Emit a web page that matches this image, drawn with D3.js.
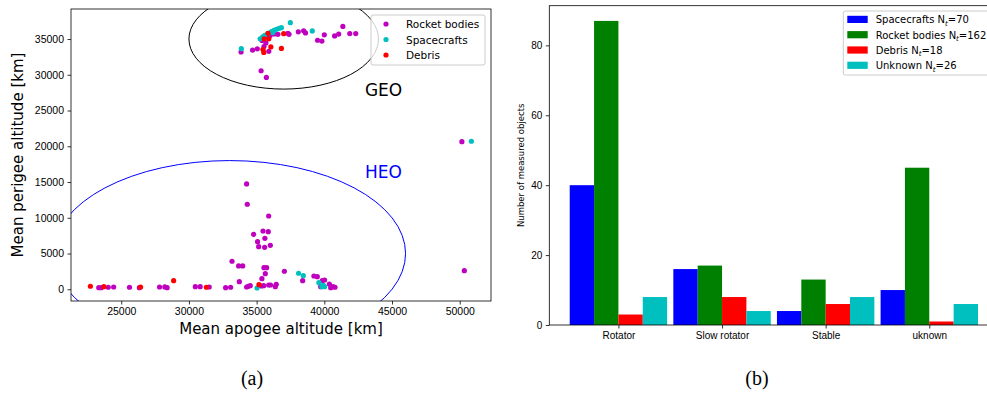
<!DOCTYPE html>
<html>
<head>
<meta charset="utf-8">
<script src="https://cdn.jsdelivr.net/npm/d3@7"></script>
<style>
  body { margin: 0; background: #fff; }
  svg { display: block; font-family: "DejaVu Sans", sans-serif; }
</style>
</head>
<body>
<svg id="chart" width="987" height="395"></svg>
<script>
// ---- panel (a): mean apogee / perigee altitude [km] ----
const rocketBodies = [
  [33850,33200],[34700,33450],[35050,33630],[35330,30560],[35720,29630],[35540,33940],
  [35680,34450],[35900,33280],[36570,35660],[37310,35800],[37390,35660],[38080,36010],
  [38470,36150],[38610,35850],[39500,34830],[39820,34710],[40000,35590],[40760,35430],
  [41060,35690],[41370,36760],[41880,35760],[42320,35760],[35700,35300],[36000,35500],
  [36300,35700],[35400,34800],
  [50160,20650],[50340,2600],
  [34260,14730],[34310,11890],[35890,10250],[34780,7690],[35470,8150],[35860,8060],
  [35610,7130],[35070,6660],[35150,5960],[35590,5870],[36010,6150],[33180,3920],
  [33670,3260],[33970,3260],[37050,2520],[35540,3020],[35740,3020],[35640,2180],
  [35390,1480],[33720,1060],
  [23340,220],[23530,220],[24040,280],[24440,320],[25610,280],[26340,220],[27830,320],
  [28220,330],[28390,220],[30470,360],[30830,360],[31500,320],[32710,220],[33080,280],
  [34260,320],[34380,420],[34530,500],[35350,460],[35520,500],[35890,600],[36030,600],
  [36380,360],[36450,700],
  [38400,1200],[39230,1860],[39480,1760],[39850,1200],[40020,1300],[40370,740],
  [40470,220],[40640,360],[40790,280],[39730,360]
];
const spacecrafts = [
  [33870,33650],[35260,35030],[37490,37290],[39110,36130],[35600,35520],[35840,35800],
  [36090,36030],[36290,36220],[36460,36370],[36660,36500],[36830,36590],[35450,35300],
  [36200,35900],[50860,20700],
  [35030,180],[38100,2240],[38450,1900],[39600,920],[39820,360],[40020,360],[39930,560]
];
const debris = [
  [35840,35800],[35560,35030],[35900,35030],[37000,35750],[36050,33890],[36830,33680],
  [35470,33520],[35530,33120],
  [22720,420],[23720,360],[26430,320],[28870,1200],[31290,280],[35170,640]
];
const scatterNames = ["Rocket bodies", "Spacecrafts", "Debris"];
const apogeeTicks = [25000, 30000, 35000, 40000, 45000, 50000];
const perigeeTicks = [0, 5000, 10000, 15000, 20000, 25000, 30000, 35000];
// orbit regions: [centre apogee, centre perigee, radius]
const geoRegion = [37000, 35000, 7000];
const heoRegion = [33000, 5000, 13000];

// ---- panel (b): rotation classes ----
const classes = ["Rotator", "Slow rotator", "Stable", "uknown"];
const groupNames = ["Spacecrafts", "Rocket bodies", "Debris", "Unknown"];
const groupTotals = [70, 162, 18, 26];
const spacecraftCounts = [40, 16, 4, 10];
const rocketCounts = [87, 17, 13, 45];
const debrisCounts = [3, 8, 6, 1];
const unknownCounts = [8, 4, 8, 6];
const countTicks = [0, 20, 40, 60, 80];

const svg = d3.select("#chart");

function styleAxis(g, size) {
  g.select(".domain").remove();
  g.selectAll(".tick line").attr("stroke", "#000").attr("stroke-width", 0.8);
  g.selectAll(".tick text").attr("fill", "#000").style("font-size", size + "px");
}

// ================= panel (a) =================
const A = {left: 71, right: 491, top: 9, bottom: 301};
const xa = d3.scaleLinear().domain([21290, 52310]).range([A.left, A.right]);
const ya = d3.scaleLinear().domain([-1640, 39200]).range([A.bottom, A.top]);

svg.append("clipPath").attr("id", "clipA")
  .append("rect").attr("x", A.left).attr("y", A.top)
  .attr("width", A.right - A.left).attr("height", A.bottom - A.top);

const pa = svg.append("g").attr("clip-path", "url(#clipA)");

[[geoRegion, "#000"], [heoRegion, "#0000ff"]].forEach(([r, c]) => {
  pa.append("ellipse")
    .attr("cx", xa(r[0])).attr("cy", ya(r[1]))
    .attr("rx", xa(r[0] + r[2]) - xa(r[0]))
    .attr("ry", ya(r[1]) - ya(r[1] + r[2]))
    .attr("fill", "none").attr("stroke", c).attr("stroke-width", 1);
});

const scatterColors = ["#bf00bf", "#00bfbf", "#ff0000"];
[rocketBodies, spacecrafts, debris].forEach((pts, i) => {
  pa.selectAll(null).data(pts).enter().append("circle")
    .attr("cx", d => xa(d[0])).attr("cy", d => ya(d[1]))
    .attr("r", 2.6).attr("fill", scatterColors[i]);
});

svg.append("text").attr("x", xa(43000)).attr("y", ya(27000))
  .style("font-size", "17px").attr("fill", "#000").text("GEO");
svg.append("text").attr("x", xa(43000)).attr("y", ya(15500))
  .style("font-size", "17px").attr("fill", "#0000ff").text("HEO");

svg.append("g").attr("transform", `translate(0,${A.bottom})`)
  .call(d3.axisBottom(xa).tickValues(apogeeTicks).tickSize(3.5).tickPadding(3.5).tickFormat(d3.format("d")))
  .call(g => styleAxis(g, 10.5));
svg.append("g").attr("transform", `translate(${A.left},0)`)
  .call(d3.axisLeft(ya).tickValues(perigeeTicks).tickSize(3.5).tickPadding(3.5).tickFormat(d3.format("d")))
  .call(g => styleAxis(g, 10.5));

svg.append("rect").attr("x", A.left).attr("y", A.top)
  .attr("width", A.right - A.left).attr("height", A.bottom - A.top)
  .attr("fill", "none").attr("stroke", "#000").attr("stroke-width", 0.8);

svg.append("text").attr("x", (A.left + A.right) / 2).attr("y", 334)
  .attr("text-anchor", "middle").style("font-size", "15px")
  .text("Mean apogee altitude [km]");
svg.append("text")
  .attr("transform", `translate(23,${(A.top + A.bottom) / 2}) rotate(-90)`)
  .attr("text-anchor", "middle").style("font-size", "15px")
  .text("Mean perigee altitude [km]");

// legend (a)
const la = svg.append("g").attr("transform", "translate(371,15)");
la.append("rect").attr("width", 114).attr("height", 50).attr("rx", 2)
  .attr("fill", "#fff").attr("fill-opacity", 0.8).attr("stroke", "#ccc");
scatterNames.forEach((n, i) => {
  la.append("circle").attr("cx", 15).attr("cy", 9 + i * 15.5).attr("r", 2.6).attr("fill", scatterColors[i]);
  la.append("text").attr("x", 35).attr("y", 13 + i * 15.5).style("font-size", "10.5px").text(n);
});

svg.append("text").attr("x", 252).attr("y", 385).attr("text-anchor", "middle")
  .style("font-family", "'Liberation Serif', serif").style("font-size", "20px").text("(a)");

// ================= panel (b) =================
const B = {left: 549.3, right: 998.4, top: 5.7, bottom: 325};
const barW = 0.235;
const xb = d3.scaleLinear().domain([-0.667, 3.667]).range([B.left, B.right]);
const yb = d3.scaleLinear().domain([0, 91.35]).range([B.bottom, B.top]);
const barColors = ["#0000ff", "#008000", "#ff0000", "#00bfbf"];
const series = [spacecraftCounts, rocketCounts, debrisCounts, unknownCounts];

series.forEach((vals, j) => {
  svg.selectAll(null).data(vals).enter().append("rect")
    .attr("x", (d, i) => xb(i + (j - 2) * barW))
    .attr("width", (d, i) => xb(i + (j - 1) * barW) - xb(i + (j - 2) * barW))
    .attr("y", d => yb(d))
    .attr("height", d => yb(0) - yb(d))
    .attr("fill", barColors[j]);
});

svg.append("g").attr("transform", `translate(0,${B.bottom})`)
  .call(d3.axisBottom(xb).tickValues([0, 1, 2, 3]).tickSize(3.5).tickPadding(3.5).tickFormat(i => classes[i]))
  .call(g => styleAxis(g, 10));
svg.append("g").attr("transform", `translate(${B.left},0)`)
  .call(d3.axisLeft(yb).tickValues(countTicks).tickSize(3.5).tickPadding(3.5))
  .call(g => styleAxis(g, 10));

svg.append("rect").attr("x", B.left).attr("y", B.top)
  .attr("width", B.right - B.left).attr("height", B.bottom - B.top)
  .attr("fill", "none").attr("stroke", "#000").attr("stroke-width", 0.8);

svg.append("text")
  .attr("transform", `translate(524,${(B.top + B.bottom) / 2}) rotate(-90)`)
  .attr("text-anchor", "middle").style("font-size", "8.5px")
  .text("Number of measured objects");

// legend (b)
const lb = svg.append("g").attr("transform", "translate(843.3,11)");
lb.append("rect").attr("width", 148).attr("height", 64).attr("rx", 2)
  .attr("fill", "#fff").attr("fill-opacity", 0.8).attr("stroke", "#ccc");
groupNames.forEach((n, i) => {
  lb.append("rect").attr("x", 4).attr("y", 4.8 + i * 15.3).attr("width", 20.4).attr("height", 7.2)
    .attr("fill", barColors[i]);
  const t = lb.append("text").attr("x", 32.4).attr("y", 12.2 + i * 15.3).style("font-size", "10px");
  t.append("tspan").text(n + " N");
  t.append("tspan").attr("dy", 2.5).style("font-size", "7px").style("font-style", "italic").text("t");
  t.append("tspan").attr("dy", -2.5).text("=" + groupTotals[i]);
});

svg.append("text").attr("x", 757).attr("y", 385).attr("text-anchor", "middle")
  .style("font-family", "'Liberation Serif', serif").style("font-size", "20px").text("(b)");
</script>
</body>
</html>
